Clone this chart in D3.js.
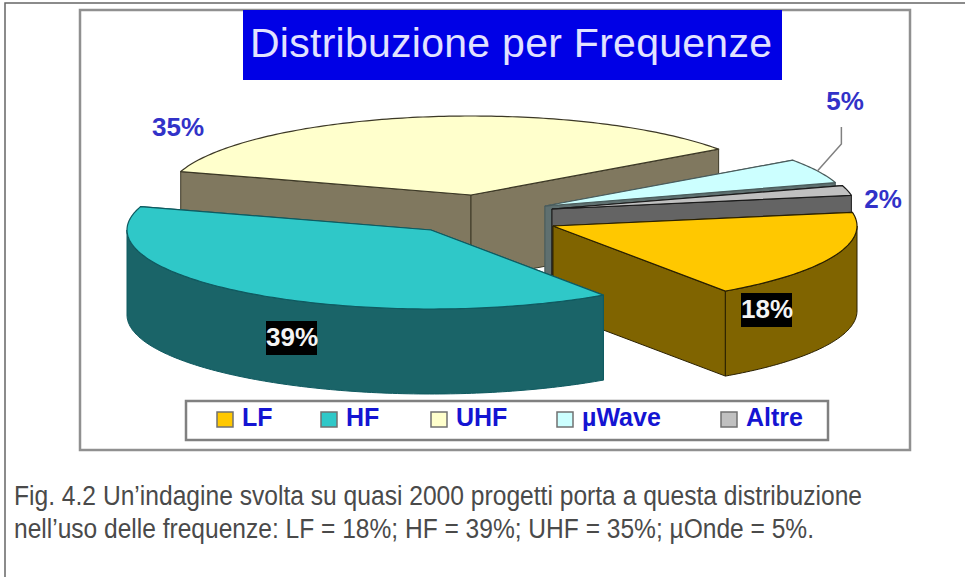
<!DOCTYPE html>
<html>
<head>
<meta charset="utf-8">
<script src="https://cdn.jsdelivr.net/npm/d3@7"></script>
<style>
  html, body { margin: 0; padding: 0; background: #fff; }
  svg { display: block; }
  text { font-family: "Liberation Sans", Arial, sans-serif; }
</style>
</head>
<body>
<div id="chart"></div>
<script>
const categories = ['LF', 'HF', 'UHF', 'µWave', 'Altre'];
const shares = [18, 39, 35, 5, 2];
const shareLabels = ['18%', '39%', '35%', '5%', '2%'];
const titleText = 'Distribuzione per Frequenze';
const captionLines = [
  'Fig. 4.2  Un’indagine svolta su quasi 2000 progetti porta a questa distribuzione',
  'nell’uso delle frequenze: LF = 18%; HF = 39%; UHF = 35%; µOnde = 5%.'
];

const topColors = ['#ffc800', '#2fc8c8', '#ffffcc', '#ccffff', '#c0c0c0'];
const wallColors = ['#806400', '#1a6468', '#80785f', '#5f7070', '#646464'];
const edgeColors = ['#2a2000', '#0f5a60', '#3c3826', '#4a5c5c', '#1a1a1a'];

const width = 965, height = 577;
const rx = 304, ry = 79, depth = 85;

// pulled-out position of each wedge's tip, by category
const tips = {
  LF: [553, 226],
  HF: [431, 230],
  UHF: [471, 195],
  'µWave': [545, 206],
  Altre: [552, 209]
};
// where the percentage sits, by category
const labelAt = {
  LF: { x: 767, y: 310, boxed: true },
  HF: { x: 292, y: 338, boxed: true },
  UHF: { x: 178, y: 128 },
  'µWave': { x: 845, y: 102 },
  Altre: { x: 883, y: 200 }
};
const legendX = { LF: 217, HF: 321, UHF: 431, 'µWave': 557, Altre: 721 };

const svg = d3.select('#chart').append('svg')
  .attr('width', width)
  .attr('height', height);

// page frame, open at the right
svg.append('path')
  .attr('d', `M5,${height}V3H${width}`)
  .attr('fill', 'none')
  .attr('stroke', '#666')
  .attr('stroke-width', 1.5);

svg.append('rect')
  .attr('x', 80).attr('y', 10)
  .attr('width', 830).attr('height', 440)
  .attr('fill', '#fff')
  .attr('stroke', '#909090')
  .attr('stroke-width', 2.5);

// title
svg.append('rect')
  .attr('x', 243).attr('y', 10)
  .attr('width', 539).attr('height', 70)
  .attr('fill', '#0000e6');

svg.append('text')
  .attr('x', 250).attr('y', 57)
  .attr('font-size', 41)
  .attr('fill', '#e2e2ff')
  .attr('textLength', 522)
  .attr('lengthAdjust', 'spacing')
  .text(titleText);

// pie, clockwise from LF with the first cut just before 3 o'clock
const deg = Math.PI / 180;
const pie = d3.pie()
  .sort(null)
  .value(d => d.share)
  .startAngle(80 * deg)
  .endAngle(440 * deg);

const slices = pie(categories.map((name, i) => ({ name, share: shares[i], i })));

const rimPoint = (tip, a) => [tip[0] + rx * Math.sin(a), tip[1] - ry * Math.cos(a)];

function rimPoints(tip, a0, a1) {
  const n = Math.max(2, Math.ceil((a1 - a0) / (1 * deg)));
  return d3.range(n + 1).map(k => rimPoint(tip, a0 + (a1 - a0) * k / n));
}

const line = d3.line();
const closed = pts => line(pts) + 'Z';
const drop = p => [p[0], p[1] + depth];

// back to front
const drawOrder = ['UHF', 'µWave', 'Altre', 'LF', 'HF'];
const pieG = svg.append('g').attr('stroke-linejoin', 'round');

drawOrder.forEach(name => {
  const s = slices.find(d => d.data.name === name);
  const tip = tips[name];
  const i = s.data.i;
  const g = pieG.append('g').attr('class', 'slice');
  const start = rimPoint(tip, s.startAngle);
  const end = rimPoint(tip, s.endAngle);

  [start, end].forEach(p => {
    g.append('path')
      .attr('d', closed([tip, p, drop(p), drop(tip)]))
      .attr('fill', wallColors[i])
      .attr('stroke', edgeColors[i])
      .attr('stroke-width', 1);
  });

  // outer wall only where the rim faces the viewer
  const a0 = Math.max(s.startAngle, 90 * deg);
  const a1 = Math.min(s.endAngle, 270 * deg);
  if (a1 > a0) {
    const rim = rimPoints(tip, a0, a1);
    g.append('path')
      .attr('d', closed(rim.concat(rim.map(drop).reverse())))
      .attr('fill', wallColors[i])
      .attr('stroke', edgeColors[i])
      .attr('stroke-width', 1);
  }

  g.append('path')
    .attr('d', closed([tip].concat(rimPoints(tip, s.startAngle, s.endAngle))))
    .attr('fill', topColors[i])
    .attr('stroke', edgeColors[i])
    .attr('stroke-width', 1.2);
});

// leader for the 5% label
const waveSlice = slices.find(d => d.data.name === 'µWave');
const leaderStart = rimPoint(tips['µWave'], (waveSlice.startAngle + waveSlice.endAngle) / 2);
svg.append('path')
  .attr('d', line([leaderStart, [leaderStart[0] + 24, leaderStart[1] - 27], [leaderStart[0] + 24, leaderStart[1] - 44]]))
  .attr('fill', 'none')
  .attr('stroke', '#808080')
  .attr('stroke-width', 1.5);

// percentage labels
categories.forEach((name, i) => {
  const pos = labelAt[name];
  if (pos.boxed) {
    svg.append('rect')
      .attr('x', pos.x - 26).attr('y', pos.y - 17)
      .attr('width', 51).attr('height', 34)
      .attr('fill', '#000');
  }
  svg.append('text')
    .attr('x', pos.x).attr('y', pos.y + 8)
    .attr('text-anchor', 'middle')
    .attr('font-size', 26)
    .attr('font-weight', 'bold')
    .attr('fill', pos.boxed ? '#f4f4f4' : '#3232c8')
    .text(shareLabels[i]);
});

// legend
svg.append('rect')
  .attr('x', 186).attr('y', 401)
  .attr('width', 642).attr('height', 39)
  .attr('fill', '#fff')
  .attr('stroke', '#808080')
  .attr('stroke-width', 2.5);

categories.forEach((name, i) => {
  const x = legendX[name];
  svg.append('rect')
    .attr('x', x).attr('y', 412)
    .attr('width', 16).attr('height', 15)
    .attr('fill', topColors[i])
    .attr('stroke', '#707070')
    .attr('stroke-width', 1.5);
  svg.append('text')
    .attr('x', x + 25).attr('y', 426)
    .attr('font-size', 25)
    .attr('font-weight', 'bold')
    .attr('fill', '#1414d2')
    .text(name);
});

// caption
const captionWidths = [848, 800];
svg.selectAll('.caption')
  .data(captionLines)
  .enter()
  .append('text')
  .attr('class', 'caption')
  .attr('x', 14)
  .attr('y', (d, i) => 505 + i * 33)
  .attr('font-size', 27)
  .attr('fill', '#4a4a4a')
  .attr('textLength', (d, i) => captionWidths[i])
  .attr('lengthAdjust', 'spacingAndGlyphs')
  .text(d => d);
</script>
</body>
</html>
